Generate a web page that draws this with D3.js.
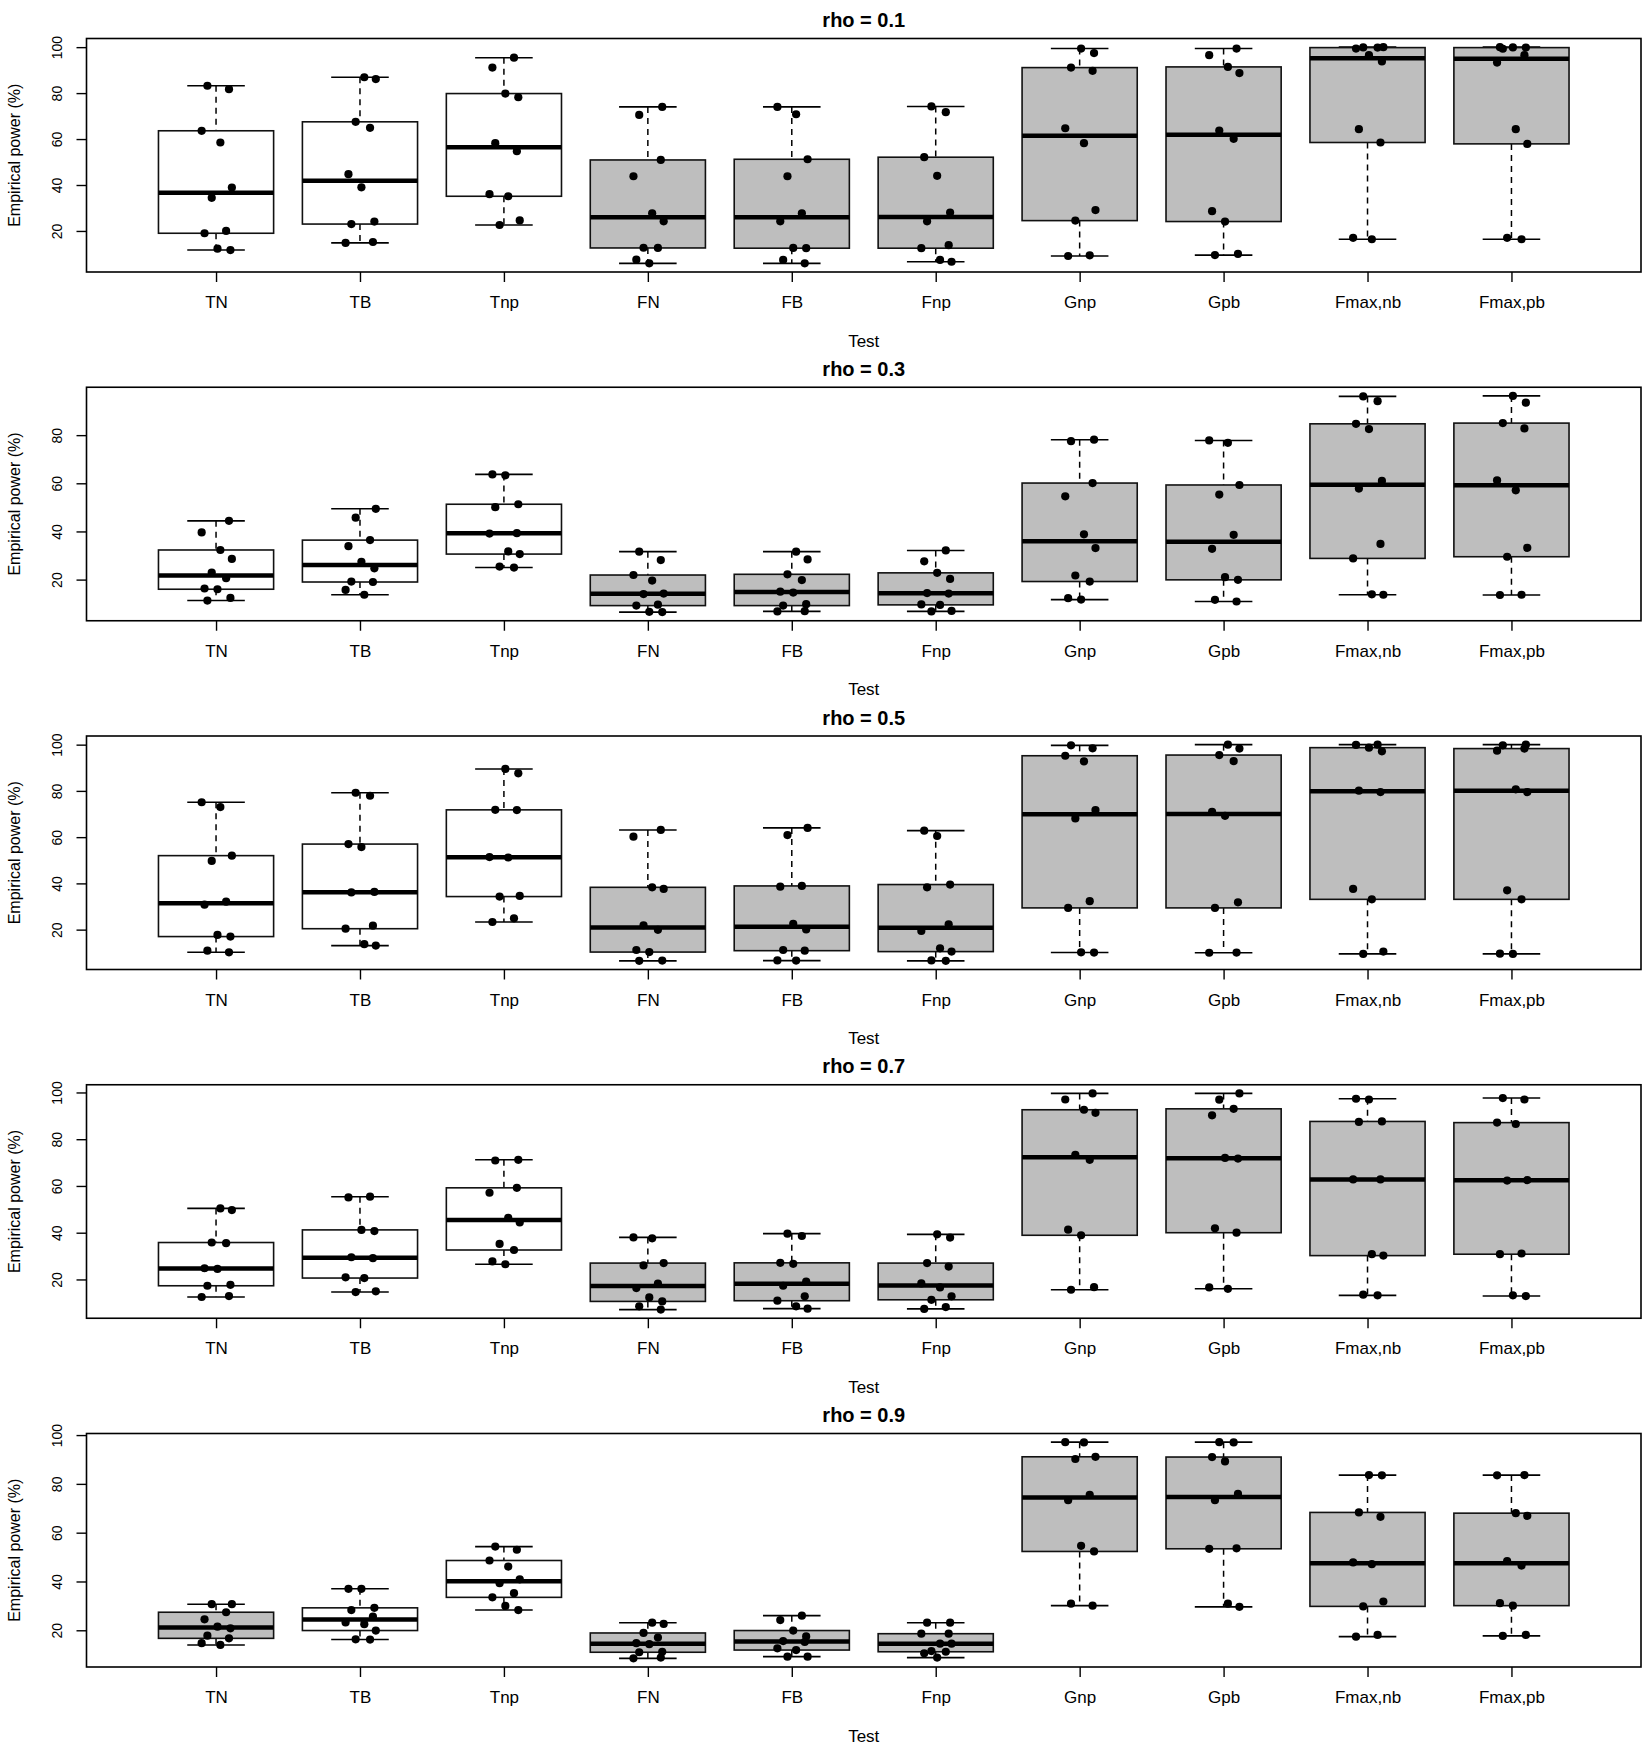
<!DOCTYPE html>
<html>
<head>
<meta charset="utf-8">
<script src="https://cdn.jsdelivr.net/npm/d3@7"></script>
<style>
  body { margin: 0; background: #fff; }
  svg { display: block; }
  text { font-family: "Liberation Sans", Arial, Helvetica, sans-serif; fill: #000; }
</style>
</head>
<body>
<svg id="chart"></svg>
<script>
// categories on the x axis
const tests = ["TN", "TB", "Tnp", "FN", "FB", "Fnp", "Gnp", "Gpb", "Fmax,nb", "Fmax,pb"];
const panelTitles = ["rho = 0.1", "rho = 0.3", "rho = 0.5", "rho = 0.7", "rho = 0.9"];
const yTickValues = [20, 40, 60, 80, 100];

// empirical power (%) per test, 10 scenarios each
const rho01 = [
  [83.2, 81.7, 63.6, 58.5, 38.9, 34.4, 20.0, 19.0, 12.3, 11.7],
  [86.9, 86.1, 67.5, 64.9, 44.7, 39.0, 24.1, 23.0, 15.2, 14.8],
  [95.4, 91.1, 79.8, 78.2, 58.2, 54.7, 36.0, 35.1, 24.6, 22.6],
  [74.0, 70.5, 50.9, 43.8, 27.7, 24.2, 12.7, 12.6, 7.5, 5.9],
  [74.0, 70.8, 51.2, 43.8, 27.7, 24.2, 12.6, 12.5, 7.4, 5.9],
  [74.2, 71.7, 52.1, 44.0, 28.0, 24.2, 13.8, 12.5, 7.4, 6.6],
  [99.4, 97.4, 91.1, 89.7, 64.7, 58.2, 29.1, 24.5, 9.4, 9.1],
  [99.4, 96.5, 91.4, 88.7, 63.7, 60.1, 28.6, 24.1, 10.0, 9.5],
  [100.0, 99.9, 99.8, 99.4, 96.5, 93.8, 64.3, 58.5, 17.0, 16.4],
  [100.0, 99.9, 99.8, 99.3, 96.5, 93.3, 64.3, 57.9, 17.0, 16.4]
];
const rho03 = [
  [44.4, 39.6, 32.3, 28.6, 22.9, 20.6, 16.3, 16.0, 12.4, 11.3],
  [49.4, 45.7, 36.4, 33.9, 27.4, 24.7, 19.2, 19.0, 15.7, 13.7],
  [63.7, 63.3, 51.3, 50.1, 39.3, 39.1, 31.7, 30.6, 25.4, 25.0],
  [31.6, 28.1, 21.9, 19.6, 14.2, 14.0, 9.6, 9.2, 6.6, 6.5],
  [31.6, 28.4, 22.2, 19.8, 15.0, 14.6, 9.8, 9.2, 6.9, 6.8],
  [32.1, 27.6, 22.8, 20.3, 14.4, 14.2, 9.7, 9.5, 7.0, 6.8],
  [78.1, 77.5, 60.1, 54.6, 38.8, 33.1, 21.7, 19.2, 12.3, 11.7],
  [77.8, 76.8, 59.3, 55.3, 38.6, 32.8, 21.0, 19.9, 11.6, 10.9],
  [96.1, 94.1, 84.7, 82.5, 61.0, 57.8, 34.8, 28.8, 13.9, 13.7],
  [96.3, 93.5, 85.0, 82.8, 61.2, 57.1, 33.2, 29.5, 13.7, 13.6]
];
const rho05 = [
  [75.1, 73.0, 52.0, 49.7, 32.1, 30.8, 17.7, 17.0, 10.9, 10.2],
  [79.2, 77.9, 57.0, 55.7, 36.3, 36.1, 21.7, 20.4, 13.7, 13.1],
  [89.5, 87.6, 71.8, 71.7, 51.4, 51.2, 34.6, 34.3, 24.9, 23.3],
  [63.1, 60.2, 38.3, 37.6, 21.9, 19.9, 11.2, 10.3, 6.6, 6.5],
  [64.0, 60.9, 38.9, 38.6, 22.5, 20.1, 11.2, 10.9, 6.7, 6.6],
  [62.8, 60.5, 39.5, 38.3, 22.3, 19.4, 11.9, 10.5, 6.7, 6.5],
  [99.7, 98.4, 95.2, 92.8, 71.7, 68.1, 32.3, 29.4, 10.2, 10.1],
  [100.0, 98.3, 95.5, 92.9, 70.9, 69.2, 31.8, 29.4, 10.1, 10.0],
  [100.0, 99.9, 98.7, 97.1, 80.1, 79.5, 37.6, 33.1, 10.5, 9.5],
  [100.0, 99.7, 98.3, 97.4, 80.7, 79.5, 37.0, 33.1, 9.6, 9.5]
];
const rho07 = [
  [50.4, 49.7, 35.8, 35.5, 24.8, 24.5, 17.7, 17.3, 12.9, 12.5],
  [55.4, 55.1, 41.2, 40.7, 29.5, 29.1, 20.9, 20.6, 14.9, 14.6],
  [71.2, 70.9, 59.2, 57.1, 46.4, 44.4, 35.2, 32.6, 27.7, 26.5],
  [38.0, 37.6, 27.0, 26.0, 18.2, 16.3, 12.3, 10.6, 8.5, 7.1],
  [39.6, 38.6, 27.1, 26.7, 19.1, 17.3, 12.8, 10.9, 8.5, 7.5],
  [39.3, 37.9, 27.0, 25.5, 18.3, 16.6, 12.8, 11.3, 8.2, 7.4],
  [99.6, 97.0, 92.6, 91.3, 73.3, 71.2, 41.3, 38.9, 16.7, 15.6],
  [99.6, 96.9, 93.0, 90.2, 72.0, 71.7, 41.9, 40.0, 16.6, 16.0],
  [97.3, 97.0, 87.6, 87.4, 62.8, 62.8, 30.8, 30.2, 13.5, 13.2],
  [97.6, 97.0, 87.1, 86.5, 62.5, 62.3, 31.1, 30.8, 13.2, 12.9]
];
const rho09 = [
  [30.7, 30.7, 27.4, 24.5, 21.5, 20.8, 17.8, 16.7, 14.7, 14.0],
  [37.0, 37.0, 29.2, 28.3, 25.6, 23.2, 22.5, 19.9, 16.3, 16.2],
  [54.3, 53.0, 48.6, 46.1, 40.9, 39.3, 35.2, 33.5, 30.0, 28.3],
  [23.1, 22.6, 18.9, 17.0, 14.7, 14.3, 11.2, 11.0, 8.8, 8.5],
  [26.0, 24.2, 19.9, 17.5, 15.6, 15.2, 12.6, 11.9, 9.2, 9.2],
  [23.1, 23.1, 18.6, 18.6, 14.5, 14.5, 11.5, 11.2, 10.6, 8.8],
  [97.1, 97.0, 91.1, 90.2, 75.5, 73.3, 54.6, 52.3, 30.9, 30.1],
  [97.1, 97.0, 91.0, 89.2, 75.9, 73.3, 53.6, 53.4, 30.9, 29.6],
  [83.6, 83.5, 68.3, 66.5, 47.8, 47.1, 31.8, 29.8, 18.1, 17.4],
  [83.6, 83.5, 68.0, 66.9, 48.4, 46.5, 31.1, 30.1, 18.1, 17.7]
];

// which boxes are filled grey in each panel
const shaded0103 = [false, false, false, true, true, true, true, true, true, true];
const shaded09 = [true, false, false, true, true, true, true, true, true, true];

const panels = [
  { title: panelTitles[0], values: rho01, shaded: shaded0103 },
  { title: panelTitles[1], values: rho03, shaded: shaded0103 },
  { title: panelTitles[2], values: rho05, shaded: shaded0103 },
  { title: panelTitles[3], values: rho07, shaded: shaded0103 },
  { title: panelTitles[4], values: rho09, shaded: shaded09 }
];

// layout
const width = 1644, height = 1744;
const rowH = 348.75;
const plotLeft = 86.5, plotRight = 1641, plotTop = 38.5, plotH = 233.5;
const plotBottom = plotTop + plotH;
const boxFill = "#bebebe";
// horizontal jitter pattern of the strip points (fraction of a category step)
const jitter = [-0.06, 0.09, -0.1, 0.03, 0.11, -0.03, 0.07, -0.08, 0.01, 0.1];

// Tukey five-number summary, as R's boxplot uses it
function fivenum(arr) {
  const s = arr.slice().sort((a, b) => a - b);
  const n = s.length;
  const n4 = Math.floor((n + 3) / 2) / 2;
  const d = [1, n4, (n + 1) / 2, n + 1 - n4, n];
  return d.map(v => 0.5 * (s[Math.floor(v) - 1] + s[Math.ceil(v) - 1]));
}

function boxStats(arr) {
  const [mn, q1, med, q3, mx] = fivenum(arr);
  const iqr = q3 - q1;
  const inside = arr.filter(v => v >= q1 - 1.5 * iqr && v <= q3 + 1.5 * iqr);
  return { q1, med, q3, lo: d3.min(inside), hi: d3.max(inside) };
}

const svg = d3.select("#chart").attr("width", width).attr("height", height);

panels.forEach((p, pi) => {
  const g = svg.append("g").attr("transform", `translate(0,${pi * rowH})`);

  const x = d3.scalePoint()
    .domain(tests)
    .range([plotLeft, plotRight])
    .padding(0.9);
  const step = x.step();

  const all = p.values.flat();
  const lo = d3.min(all), hi = d3.max(all);
  const pad = 0.04 * (hi - lo);
  const y = d3.scaleLinear()
    .domain([lo - pad, hi + pad])
    .range([plotBottom, plotTop]);

  const boxes = g.selectAll(".box")
    .data(p.values.map((v, i) => ({ test: tests[i], stats: boxStats(v), shaded: p.shaded[i] })))
    .enter().append("g")
    .attr("class", "box");

  // whiskers
  boxes.append("line")
    .attr("x1", d => x(d.test)).attr("x2", d => x(d.test))
    .attr("y1", d => y(d.stats.hi)).attr("y2", d => y(d.stats.q3))
    .attr("stroke", "#000").attr("stroke-width", 1.5).attr("stroke-dasharray", "6,5");
  boxes.append("line")
    .attr("x1", d => x(d.test)).attr("x2", d => x(d.test))
    .attr("y1", d => y(d.stats.q1)).attr("y2", d => y(d.stats.lo))
    .attr("stroke", "#000").attr("stroke-width", 1.5).attr("stroke-dasharray", "6,5");
  // staples
  ["hi", "lo"].forEach(k => {
    boxes.append("line")
      .attr("x1", d => x(d.test) - 0.2 * step).attr("x2", d => x(d.test) + 0.2 * step)
      .attr("y1", d => y(d.stats[k])).attr("y2", d => y(d.stats[k]))
      .attr("stroke", "#000").attr("stroke-width", 1.6);
  });
  // box
  boxes.append("rect")
    .attr("x", d => x(d.test) - 0.4 * step)
    .attr("width", 0.8 * step)
    .attr("y", d => y(d.stats.q3))
    .attr("height", d => y(d.stats.q1) - y(d.stats.q3))
    .attr("fill", d => d.shaded ? boxFill : "#fff")
    .attr("stroke", "#111").attr("stroke-width", 1.6);
  // median
  boxes.append("line")
    .attr("x1", d => x(d.test) - 0.4 * step).attr("x2", d => x(d.test) + 0.4 * step)
    .attr("y1", d => y(d.stats.med)).attr("y2", d => y(d.stats.med))
    .attr("stroke", "#000").attr("stroke-width", 4.5);

  // jittered points
  const pts = [];
  p.values.forEach((v, i) => v.forEach((val, j) => {
    pts.push({ test: tests[i], value: val, dx: jitter[(j + 3 * i + pi) % jitter.length] });
  }));
  g.selectAll(".pt")
    .data(pts)
    .enter().append("circle")
    .attr("class", "pt")
    .attr("cx", d => x(d.test) + d.dx * step)
    .attr("cy", d => y(d.value))
    .attr("r", 4.1)
    .attr("fill", "#000");

  // plot frame
  g.append("rect")
    .attr("x", plotLeft).attr("y", plotTop)
    .attr("width", plotRight - plotLeft).attr("height", plotH)
    .attr("fill", "none").attr("stroke", "#000").attr("stroke-width", 1.6);

  // y axis
  const yAxis = d3.axisLeft(y)
    .tickValues(yTickValues.filter(t => t >= y.domain()[0] && t <= y.domain()[1]))
    .tickSize(10)
    .tickFormat(d3.format("d"));
  const yg = g.append("g").attr("transform", `translate(${plotLeft},0)`).call(yAxis);
  yg.select(".domain").remove();
  yg.selectAll("line").attr("stroke", "#000").attr("stroke-width", 1.4);
  yg.selectAll("text")
    .attr("x", null).attr("dy", null)
    .attr("text-anchor", "middle")
    .attr("transform", "translate(-25,0) rotate(-90)")
    .attr("font-size", 14)
    .attr("fill", "#000");

  // x axis
  const xAxis = d3.axisBottom(x).tickSize(10);
  const xg = g.append("g").attr("transform", `translate(0,${plotBottom})`).call(xAxis);
  xg.select(".domain").remove();
  xg.selectAll("line").attr("stroke", "#000").attr("stroke-width", 1.4);
  xg.selectAll("text")
    .attr("y", 36).attr("dy", null)
    .attr("font-size", 17)
    .attr("fill", "#000");

  // titles
  const cx = (plotLeft + plotRight) / 2;
  g.append("text")
    .attr("x", cx).attr("y", plotTop - 11.5)
    .attr("text-anchor", "middle")
    .attr("font-size", 20).attr("font-weight", "bold")
    .text(p.title);
  g.append("text")
    .attr("x", cx).attr("y", plotBottom + 74.5)
    .attr("text-anchor", "middle")
    .attr("font-size", 17)
    .text("Test");
  g.append("text")
    .attr("transform", `translate(20,${plotTop + plotH / 2}) rotate(-90)`)
    .attr("text-anchor", "middle")
    .attr("font-size", 16)
    .text("Empirical power (%)");
});
</script>
</body>
</html>
